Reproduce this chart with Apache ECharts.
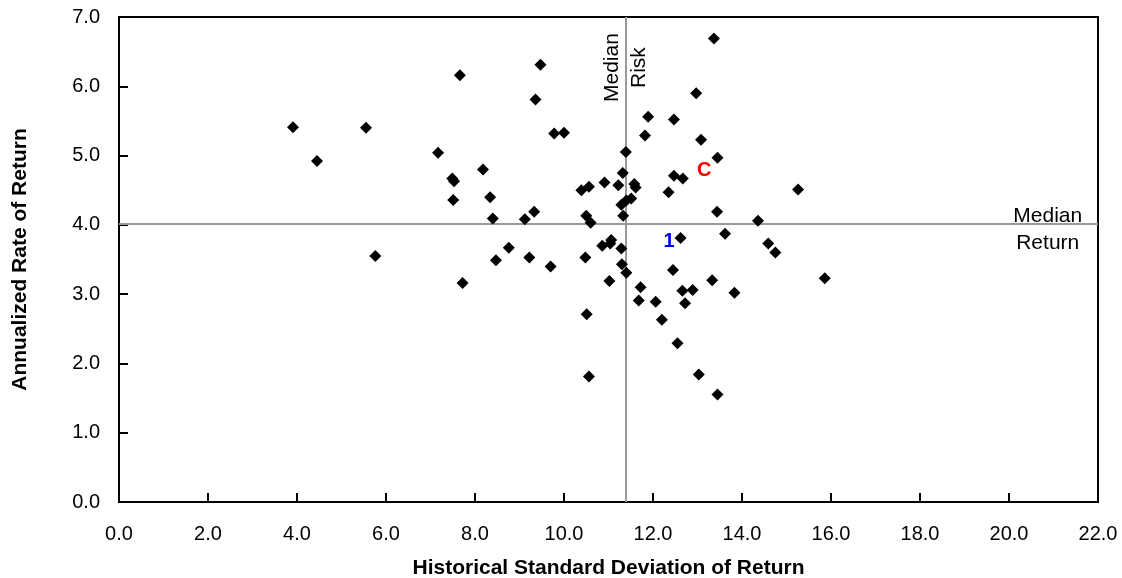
<!DOCTYPE html>
<html>
<head>
<meta charset="utf-8">
<script src="https://cdn.jsdelivr.net/npm/echarts@6/dist/echarts.min.js"></script>
<style>
html,body{margin:0;padding:0;background:#fff;}
#chart{width:1122px;height:578px;}
</style>
</head>
<body>
<div id="chart"></div>
<script>
// Risk (x) and return (y) for each fund
const riskValues = [3.91,4.45,5.55,5.76,7.17,7.49,7.53,7.51,7.66,7.72,8.18,8.34,8.40,8.47,8.76,9.12,9.22,9.33,9.36,9.47,9.70,9.78,10.00,10.39,10.56,10.50,10.60,10.48,10.51,10.56,10.86,10.91,11.06,11.04,11.02,11.22,11.29,11.30,11.32,11.33,11.29,11.40,11.51,11.39,11.40,11.58,11.61,11.72,11.68,11.82,11.89,12.06,12.20,12.35,12.47,12.47,12.45,12.62,12.55,12.67,12.66,12.72,12.89,12.97,13.08,13.03,13.33,13.37,13.45,13.44,13.45,13.62,13.83,14.36,14.59,14.75,15.26,15.86];
const returnValues = [5.41,4.92,5.40,3.55,5.04,4.67,4.63,4.36,6.16,3.16,4.80,4.40,4.09,3.49,3.67,4.08,3.53,4.19,5.81,6.31,3.40,5.32,5.33,4.50,4.55,4.13,4.03,3.53,2.71,1.81,3.70,4.61,3.78,3.73,3.19,4.57,3.66,3.43,4.75,4.13,4.29,4.35,4.38,5.05,3.31,4.59,4.54,3.10,2.91,5.29,5.56,2.89,2.63,4.47,5.52,4.71,3.35,3.81,2.29,4.67,3.05,2.87,3.06,5.90,5.23,1.84,3.20,6.69,4.97,4.19,1.55,3.87,3.02,4.06,3.73,3.60,4.51,3.23];

// Medians
const medianRisk = 11.39;
const medianReturn = 4.02;

// Highlight labels
const highlightX = [13.15, 12.36];
const highlightY = [4.85, 3.83];
const highlightText = ['C', '1'];
const highlightColors = ['#ff0000', '#0000ff'];

// Annotation anchors (data coordinates)
const riskLabelY = 6.27;
const returnLabelX = 20.87;

// Tick ranges
const xMin = 0, xMax = 22, xStep = 2;
const yMin = 0, yMax = 7, yStep = 1;

const xTitle = 'Historical Standard Deviation of Return';
const yTitle = 'Annualized Rate of Return';

const points = riskValues.map((x, i) => [x, returnValues[i]]);
const highlights = highlightX.map((x, i) => ({
  value: [x, highlightY[i]],
  label: { formatter: highlightText[i], color: highlightColors[i] }
}));

const FONT = 'Liberation Sans, Arial, sans-serif';
const chart = echarts.init(document.getElementById('chart'));
chart.setOption({
  animation: false,
  backgroundColor: '#ffffff',
  grid: { left: 119, right: 24, top: 17, bottom: 76, containLabel: false, outerBoundsMode: 'none', show: true, borderColor: '#000', borderWidth: 2, backgroundColor: 'transparent' },
  xAxis: {
    type: 'value', min: xMin, max: xMax, interval: xStep,
    name: xTitle, nameLocation: 'middle', nameGap: 56,
    nameTextStyle: { fontFamily: FONT, fontSize: 21, fontWeight: 'bold', color: '#000' },
    axisLine: { show: true, lineStyle: { color: '#000', width: 2 } },
    axisTick: { show: true, inside: true, length: 9, lineStyle: { color: '#000', width: 2 } },
    axisLabel: { fontFamily: FONT, fontSize: 20, color: '#000', margin: 22, formatter: v => v.toFixed(1) },
    splitLine: { show: false }
  },
  yAxis: {
    type: 'value', min: yMin, max: yMax, interval: yStep,
    name: yTitle, nameLocation: 'middle', nameGap: 88,
    nameTextStyle: { fontFamily: FONT, fontSize: 21, fontWeight: 'bold', color: '#000' },
    axisLine: { show: true, lineStyle: { color: '#000', width: 2 } },
    axisTick: { show: true, inside: true, length: 9, lineStyle: { color: '#000', width: 2 } },
    axisLabel: { fontFamily: FONT, fontSize: 20, color: '#000', margin: 19, formatter: v => v.toFixed(1) },
    splitLine: { show: false }
  },
  series: [
    {
      type: 'scatter',
      data: points,
      symbol: 'diamond',
      symbolSize: 12,
      itemStyle: { color: '#000', opacity: 1 },
      z: 3,
      markLine: {
        silent: true,
        symbol: 'none',
        lineStyle: { color: '#999', width: 2, type: 'solid', opacity: 1 },
        label: { show: false },
        data: [{ xAxis: medianRisk }, { yAxis: medianReturn }],
        z: 1
      }
    },
    {
      type: 'scatter',
      data: highlights,
      symbolSize: 0,
      silent: true,
      itemStyle: { opacity: 1 },
      label: { show: true, position: 'inside', offset: [0, 5], fontFamily: FONT, fontSize: 20, fontWeight: 'bold' },
      z: 4
    },
    {
      type: 'scatter',
      data: [[medianRisk, riskLabelY]],
      symbolSize: 0,
      silent: true,
      itemStyle: { opacity: 1 },
      label: { show: true, position: 'inside', rotate: 90, formatter: 'Median\nRisk', align: 'center', verticalAlign: 'middle', lineHeight: 27, fontFamily: FONT, fontSize: 21, color: '#000' }
    },
    {
      type: 'scatter',
      data: [[returnLabelX, medianReturn]],
      symbolSize: 0,
      silent: true,
      itemStyle: { opacity: 1 },
      label: { show: true, position: 'inside', offset: [0, 6], formatter: 'Median\nReturn', align: 'center', verticalAlign: 'middle', lineHeight: 27, fontFamily: FONT, fontSize: 21, color: '#000' }
    }
  ]
});
</script>
</body>
</html>
